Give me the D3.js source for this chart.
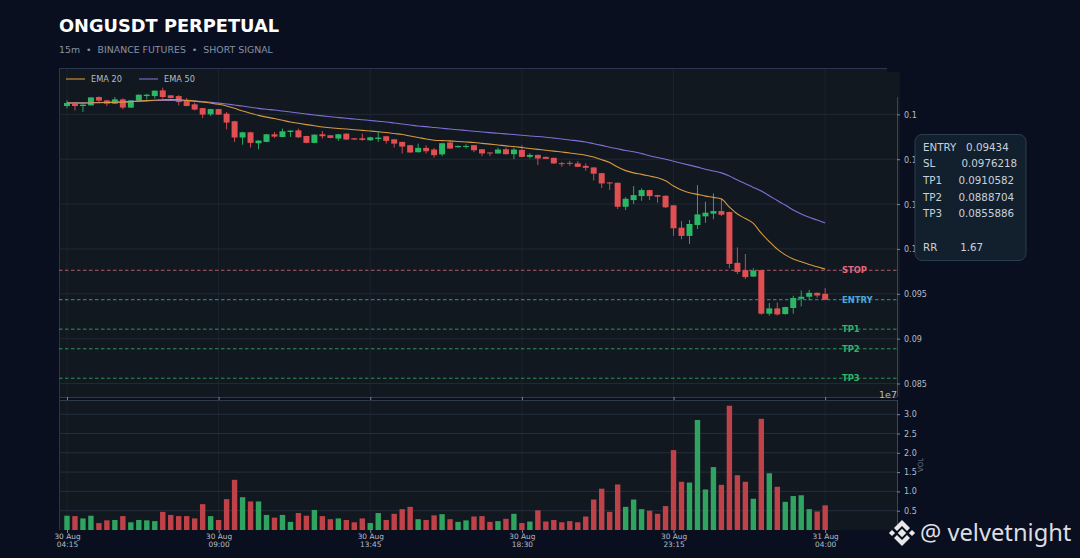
<!DOCTYPE html>
<html>
<head>
<meta charset="utf-8">
<style>
  html, body { margin: 0; padding: 0; background: #0a0f1f; }
  svg { display: block; font-family: "DejaVu Sans", sans-serif; }
  .axis path { stroke: none; }
  .axis line { stroke: #7d8796; }
  .axis text { fill: #b4bcc8; font-size: 8px; font-family: "DejaVu Sans", sans-serif; }
</style>
</head>
<body>
<svg width="1080" height="558"></svg>
<script src="https://cdn.jsdelivr.net/npm/d3@7"></script>
<script>
// candles, 15m bars from 30 Aug 04:15 to 31 Aug 04:00
var opens = [
  .11593,.11619,.11593,.11600,.11693,.11656,.11619,.11667,.11575,.11653,.11704,.11704,.11767,.11712,.11704,.11656,
  .11612,.11570,.11500,.11559,.11508,.11423,.11242,.11300,.11178,.11193,.11278,.11248,.11304,.11322,.11259,.11182,
  .11278,.11267,.11230,.11285,.11233,.11233,.11211,.11226,.11256,.11222,.11193,.11156,.11078,.11126,.11108,.11054,
  .11186,.11134,.11137,.11156,.11111,.11075,.11064,.11111,.11056,.11104,.11026,.11048,.11026,.11015,.10956,.10960,
  .10953,.10926,.10908,.10845,.10741,.10737,.10470,.10544,.10589,.10656,.10600,.10593,.10486,.10237,.10145,.10267,
  .10363,.10393,.10422,.10412,.09845,.09764,.09692,.09764,.09278,.09337,.09274,.09342,.09444,.09467,.09511,.09500
];
var closes = [
  .11626,.11593,.11608,.11689,.11653,.11619,.11667,.11575,.11656,.11719,.11719,.11764,.11693,.11682,.11637,.11593,
  .11553,.11497,.11559,.11497,.11408,.11242,.11300,.11182,.11208,.11278,.11252,.11311,.11319,.11244,.11182,.11274,
  .11256,.11237,.11278,.11219,.11219,.11215,.11244,.11241,.11204,.11174,.11141,.11075,.11126,.11089,.11045,.11178,
  .11119,.11148,.11148,.11100,.11064,.11067,.11108,.11056,.11108,.11026,.11048,.11008,.11004,.10953,.10949,.10949,
  .10915,.10904,.10839,.10730,.10730,.10470,.10559,.10600,.10656,.10589,.10582,.10464,.10230,.10145,.10278,.10385,
  .10404,.10422,.10381,.09833,.09744,.09686,.09759,.09278,.09337,.09270,.09352,.09453,.09467,.09511,.09481,.09433
];
var highs = [
  .11656,.11622,.11611,.11689,.11700,.11662,.11693,.11678,.11656,.11722,.11730,.11767,.11797,.11715,.11715,.11682,
  .11630,.11572,.11561,.11561,.11526,.11428,.11306,.11306,.11211,.11278,.11304,.11341,.11322,.11341,.11261,.11278,
  .11315,.11269,.11283,.11289,.11237,.11285,.11250,.11304,.11261,.11226,.11195,.11159,.11174,.11156,.11126,.11182,
  .11204,.11152,.11167,.11158,.11115,.11078,.11130,.11130,.11130,.11156,.11067,.11052,.11029,.11019,.10971,.10982,
  .10979,.10953,.10911,.10848,.10745,.10741,.10578,.10701,.10675,.10659,.10603,.10596,.10489,.10311,.10322,.10711,
  .10526,.10619,.10563,.10415,.10017,.09944,.09786,.09767,.09397,.09403,.09356,.09478,.09537,.09544,.09514,.09563
];
var lows = [
  .11567,.11544,.11526,.11600,.11634,.11593,.11617,.11556,.11573,.11650,.11664,.11675,.11675,.11678,.11600,.11589,
  .11544,.11459,.11481,.11495,.11333,.11193,.11162,.11130,.11111,.11189,.11237,.11244,.11248,.11237,.11178,.11178,
  .11230,.11233,.11204,.11217,.11213,.11206,.11206,.11193,.11174,.11130,.11063,.11071,.11074,.11063,.11019,.11034,
  .11115,.11128,.11119,.11078,.11034,.11034,.11060,.11052,.11000,.11022,.11008,.10934,.11000,.10949,.10915,.10926,
  .10912,.10871,.10762,.10678,.10656,.10445,.10433,.10500,.10537,.10544,.10515,.10456,.10145,.10108,.10056,.10222,
  .10292,.10330,.10367,.09786,.09719,.09664,.09689,.09267,.09256,.09256,.09267,.09278,.09359,.09426,.09456,.09430
];
var ema20 = [
  .11628,.11626,.11625,.11628,.11630,.11632,.11634,.11636,.11642,.11647,.11653,.11658,.11663,.11664,.11662,.11656,
  .11648,.11638,.11626,.11612,.11593,.11567,.11537,.11512,.11489,.11469,.11453,.11434,.11415,.11400,.11386,.11373,
  .11359,.11350,.11343,.11336,.11329,.11322,.11314,.11306,.11297,.11286,.11275,.11258,.11242,.11225,.11212,.11207,
  .11204,.11198,.11192,.11186,.11177,.11168,.11159,.11149,.11141,.11130,.11120,.11110,.11100,.11090,.11080,.11070,
  .11058,.11045,.11025,.10994,.10964,.10912,.10873,.10848,.10831,.10812,.10793,.10759,.10701,.10656,.10626,.10608,
  .10589,.10575,.10556,.10467,.10389,.10339,.10284,.10175,.10082,.09997,.09934,.09889,.09856,.09826,.09801,.09775
];
var ema50 = [
  .11628,.11628,.11629,.11630,.11632,.11634,.11636,.11639,.11645,.11647,.11650,.11654,.11656,.11655,.11654,.11652,
  .11648,.11642,.11634,.11625,.11615,.11604,.11593,.11579,.11567,.11557,.11548,.11537,.11526,.11515,.11504,.11493,
  .11483,.11474,.11465,.11456,.11448,.11440,.11432,.11423,.11415,.11404,.11393,.11382,.11370,.11363,.11354,.11345,
  .11337,.11328,.11320,.11312,.11304,.11296,.11289,.11282,.11275,.11267,.11259,.11253,.11245,.11235,.11225,.11214,
  .11204,.11192,.11173,.11154,.11134,.11116,.11098,.11084,.11062,.11039,.11019,.11000,.10978,.10956,.10934,.10912,
  .10889,.10869,.10848,.10812,.10767,.10727,.10686,.10645,.10593,.10539,.10489,.10433,.10389,.10352,.10322,.10289
];
// volume in units of 1e7
var volumes = [
  .37,.36,.30,.37,.18,.25,.26,.36,.20,.26,.25,.23,.47,.39,.36,.36,
  .30,.67,.36,.26,.80,1.30,.85,.74,.74,.39,.32,.39,.21,.44,.37,.52,
  .36,.28,.30,.26,.20,.30,.18,.44,.26,.42,.54,.60,.28,.26,.38,.41,
  .28,.21,.25,.35,.36,.21,.23,.29,.42,.18,.22,.51,.22,.26,.20,.23,
  .20,.35,.79,1.07,.47,1.18,.60,.79,.54,.50,.42,.62,2.07,1.25,1.23,2.85,
  1.05,1.63,1.17,3.22,1.42,1.25,.81,2.88,1.47,1.12,.73,.88,.90,.54,.48,.64
];

var levelNames = ["STOP", "ENTRY", "TP1", "TP2", "TP3"];
var levelValues = [0.0976218, 0.09434, 0.0910582, 0.0888704, 0.0855886];
var levelColors = ["#e0697f", "#4aa8d8", "#2fb567", "#2fb567", "#2fb567"];

var xTickIndex = [0, 19, 38, 57, 76, 95];
var xTickDay = ["30 Aug", "30 Aug", "30 Aug", "30 Aug", "30 Aug", "31 Aug"];
var xTickTime = ["04:15", "09:00", "13:45", "18:30", "23:15", "04:00"];
var priceTicks = [0.085, 0.09, 0.095, 0.1, 0.105, 0.11, 0.115];
var priceTickLabels = ["0.085", "0.09", "0.095", "0.1", "0.1", "0.1", "0.1"];
var volTicks = [0.5, 1, 1.5, 2, 2.5, 3];

var infoLines = ["ENTRY   0.09434", "SL        0.0976218", "TP1     0.0910582", "TP2     0.0888704", "TP3     0.0855886", "", "RR       1.67"];

var GREEN = "#2bb866", RED = "#e04f52";

var svg = d3.select("svg");
var margin = { left: 59, right: 897, priceTop: 69, priceBottom: 397, volTop: 400, volBottom: 530 };

var x = d3.scaleLinear().domain([-1, 104]).range([margin.left, margin.right]);
var y = d3.scaleLinear().domain([0.08344, 0.12]).range([margin.priceBottom + 0.5, margin.priceTop + 0.5]);
var yVol = d3.scaleLinear().domain([0, 3.368]).range([margin.volBottom, margin.volTop]);

var candles = opens.map(function(o, i) {
    return { i: i, open: o, close: closes[i], high: highs[i], low: lows[i], vol: volumes[i], up: closes[i] >= o };
});

// title
svg.append("text").attr("x", 59).attr("y", 32).attr("fill", "#fff")
    .attr("font-size", 17.8).attr("font-weight", "bold").text("ONGUSDT PERPETUAL");
svg.append("text").attr("x", 59).attr("y", 53).attr("fill", "#8592a6")
    .attr("font-size", 9.4).style("white-space", "pre").text("15m  •  BINANCE FUTURES  •  SHORT SIGNAL");

// panels
svg.append("rect").attr("x", margin.left).attr("y", margin.priceTop).attr("width", 828).attr("height", margin.priceBottom - margin.priceTop)
    .attr("fill", "#111820");
svg.append("rect").attr("x", 887).attr("y", 72).attr("width", 13).attr("height", margin.priceBottom - 72)
    .attr("fill", "#111820");
svg.append("rect").attr("x", margin.left).attr("y", margin.volTop).attr("width", margin.right - margin.left).attr("height", margin.volBottom - margin.volTop)
    .attr("fill", "#111820");
svg.append("line").attr("x1", margin.left).attr("x2", 887).attr("y1", 68.5).attr("y2", 68.5).attr("stroke", "#2b3550");
svg.append("line").attr("x1", 59.5).attr("x2", 59.5).attr("y1", 69).attr("y2", 530).attr("stroke", "#2a3444");
svg.append("line").attr("x1", margin.left).attr("x2", margin.right).attr("y1", 397.5).attr("y2", 397.5).attr("stroke", "#2f3a4a");
svg.append("line").attr("x1", margin.left).attr("x2", margin.right).attr("y1", 400.5).attr("y2", 400.5).attr("stroke", "#2f3a4a");
svg.append("line").attr("x1", 897.5).attr("x2", 897.5).attr("y1", 97).attr("y2", 397).attr("stroke", "#3a4658");
svg.append("line").attr("x1", 897.5).attr("x2", 897.5).attr("y1", 400).attr("y2", 530).attr("stroke", "#3a4658");

// grid
var grid = svg.append("g").attr("stroke", "#232d3a").attr("stroke-width", 0.8);
grid.selectAll(".vp").data(xTickIndex).enter().append("line")
    .attr("x1", function(d) { return x(d); }).attr("x2", function(d) { return x(d); })
    .attr("y1", margin.priceTop).attr("y2", margin.priceBottom).attr("stroke-opacity", 0.7);
grid.selectAll(".vv").data(xTickIndex).enter().append("line")
    .attr("x1", function(d) { return x(d); }).attr("x2", function(d) { return x(d); })
    .attr("y1", margin.volTop).attr("y2", margin.volBottom).attr("stroke-opacity", 0.7);
grid.selectAll(".hp").data(priceTicks).enter().append("line")
    .attr("x1", margin.left).attr("x2", margin.right)
    .attr("y1", function(d) { return y(d); }).attr("y2", function(d) { return y(d); });
grid.selectAll(".hv").data(volTicks).enter().append("line")
    .attr("x1", margin.left).attr("x2", margin.right)
    .attr("y1", function(d) { return yVol(d); }).attr("y2", function(d) { return yVol(d); }).attr("stroke", "#2a3542");

// price levels
svg.selectAll(".level").data(levelValues).enter().append("line")
    .attr("x1", margin.left).attr("x2", margin.right)
    .attr("y1", function(d) { return y(d); }).attr("y2", function(d) { return y(d); })
    .attr("stroke", function(d, i) { return levelColors[i]; })
    .attr("stroke-width", 1).attr("stroke-dasharray", "3.5,2.5").attr("stroke-opacity", 0.8);
svg.selectAll(".levelLabel").data(levelValues).enter().append("text")
    .attr("x", 842).attr("y", function(d) { return y(d) + 3; })
    .attr("font-size", 8.4).attr("font-weight", "bold")
    .attr("fill", function(d, i) { return levelColors[i]; })
    .text(function(d, i) { return levelNames[i]; });

// wicks and bodies
svg.selectAll(".wick").data(candles).enter().append("line")
    .attr("x1", function(d) { return x(d.i); }).attr("x2", function(d) { return x(d.i); })
    .attr("y1", function(d) { return y(d.high); }).attr("y2", function(d) { return y(d.low); })
    .attr("stroke", function(d) { return d.up ? GREEN : RED; }).attr("stroke-width", 0.9);
svg.selectAll(".body").data(candles).enter().append("rect")
    .attr("x", function(d) { return x(d.i) - 3; }).attr("width", 6)
    .attr("y", function(d) { return y(Math.max(d.open, d.close)); })
    .attr("height", function(d) { return Math.max(1, Math.abs(y(d.open) - y(d.close))); })
    .attr("fill", function(d) { return d.up ? GREEN : RED; });

// ema lines
var emaLine = d3.line().x(function(d, i) { return x(i); }).y(function(d) { return y(d); }).curve(d3.curveMonotoneX);
svg.append("path").attr("d", emaLine(ema50)).attr("fill", "none").attr("stroke", "#7f6fd6").attr("stroke-width", 1.1);
svg.append("path").attr("d", emaLine(ema20)).attr("fill", "none").attr("stroke", "#d9993f").attr("stroke-width", 1.1);

// legend
var legendNames = ["EMA 20", "EMA 50"];
var legendColors = ["#d9993f", "#7f6fd6"];
var legendX = [66, 139];
legendNames.forEach(function(name, i) {
    svg.append("line").attr("x1", legendX[i]).attr("x2", legendX[i] + 19).attr("y1", 79).attr("y2", 79)
        .attr("stroke", legendColors[i]).attr("stroke-width", 1.1);
    svg.append("text").attr("x", legendX[i] + 25).attr("y", 82).attr("fill", "#b4bcc8").attr("font-size", 8.2).text(name);
});

// volume bars
svg.selectAll(".vol").data(candles).enter().append("rect")
    .attr("x", function(d) { return x(d.i) - 2.7; }).attr("width", 5.4)
    .attr("y", function(d) { return yVol(d.vol); })
    .attr("height", function(d) { return yVol(0) - yVol(d.vol); })
    .attr("fill", function(d) { return d.up ? "#2fa35f" : "#bf4249"; });

// axes
var priceAxis = d3.axisRight(y).tickValues(priceTicks).tickSize(3).tickPadding(4)
    .tickFormat(function(d, i) { return priceTickLabels[i]; });
var priceG = svg.append("g").attr("class", "axis").attr("transform", "translate(" + margin.right + ",0)").call(priceAxis);
priceG.selectAll(".tick text").attr("y", 0.5);

var volAxis = d3.axisRight(yVol).tickValues(volTicks).tickSize(3).tickPadding(4).tickFormat(d3.format(".1f"));
svg.append("g").attr("class", "axis").attr("transform", "translate(" + margin.right + ",0)").call(volAxis);

svg.append("g").attr("class", "axis").attr("transform", "translate(0," + margin.priceBottom + ")")
    .call(d3.axisBottom(x).tickValues(xTickIndex).tickSize(3).tickFormat(""));
var timeAxis = d3.axisBottom(x).tickValues(xTickIndex).tickSize(3).tickPadding(6).tickFormat("");
var timeG = svg.append("g").attr("class", "axis").attr("transform", "translate(0," + margin.volBottom + ")").call(timeAxis);
timeG.selectAll(".tick text").each(function(d, i) {
    var t = d3.select(this).style("font-size", "7.4px");
    t.append("tspan").attr("x", 0).attr("dy", 0).text(xTickDay[i]);
    t.append("tspan").attr("x", 0).attr("dy", 8).text(xTickTime[i]);
});

svg.append("text").attr("x", 879).attr("y", 398).attr("fill", "#b4bcc8").attr("font-size", 9.5).text("1e7");
svg.append("text").attr("transform", "translate(923,465) rotate(-90)").attr("text-anchor", "middle")
    .attr("fill", "#6f7a8a").attr("font-size", 7).text("VOL");

// info box
svg.append("rect").attr("x", 915).attr("y", 134.5).attr("width", 111).attr("height", 126).attr("rx", 7)
    .attr("fill", "#12202e").attr("stroke", "#2b3c4c");
svg.selectAll(".info").data(infoLines).enter().append("text")
    .attr("x", 923).attr("y", function(d, i) { return 150.5 + i * 16.7; })
    .attr("fill", "#c8d0da").attr("font-size", 10.3).style("white-space", "pre")
    .text(function(d) { return d; });

// watermark
var mark = svg.append("g").attr("transform", "translate(902,533)").attr("fill", "#e8e8ea");
var markDiamonds = [[0, 0, 3], [-10, 0, 2.2], [10, 0, 2.2]];
markDiamonds.forEach(function(d) {
    mark.append("rect").attr("x", d[0] - d[2]).attr("y", d[1] - d[2]).attr("width", d[2] * 2).attr("height", d[2] * 2)
        .attr("transform", "rotate(45 " + d[0] + " " + d[1] + ")");
});
mark.append("path").attr("d", "M0,-13 L8,-5 L5,-2 L0,-7 L-5,-2 L-8,-5 Z");
mark.append("path").attr("d", "M0,13 L8,5 L5,2 L0,7 L-5,2 L-8,5 Z");
svg.append("text").attr("x", 920).attr("y", 541).attr("fill", "#dcdee2")
    .attr("font-family", "'Noto Sans', sans-serif").attr("font-size", 23.7).text("@ velvetnight");
</script>
</body>
</html>
